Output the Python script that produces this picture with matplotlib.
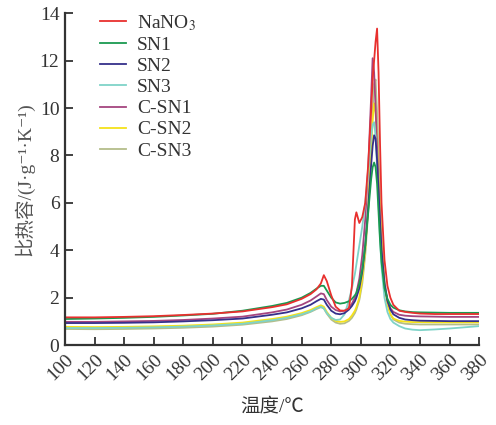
import matplotlib
matplotlib.use("Agg")
import matplotlib.pyplot as plt

# temperature grid (deg C) shared by all curves
temps = [100, 120, 140, 160, 180, 200, 220, 240, 250, 260, 266, 270, 273, 275, 277,
         280, 283, 286, 289, 292, 294, 296, 297, 299, 301, 303, 305, 307, 308, 309,
         310, 311, 312, 313, 314, 316, 318, 320, 322, 326, 330, 335, 340, 350, 360,
         370, 380]

nano3 = [1.17, 1.17, 1.19, 1.22, 1.27, 1.33, 1.42, 1.60, 1.72, 1.95, 2.15, 2.35, 2.60, 2.95, 2.70,
         2.10, 1.62, 1.46, 1.45, 1.55, 2.50, 5.30, 5.60, 5.15, 5.40, 6.00, 7.60, 9.90, 11.2, 12.0,
         12.8, 13.35, 11.5, 8.5, 6.0, 3.6, 2.5, 2.0, 1.70, 1.45, 1.40, 1.36, 1.33, 1.31, 1.31,
         1.31, 1.31]
sn1 = [1.10, 1.12, 1.15, 1.19, 1.25, 1.32, 1.45, 1.65, 1.78, 2.00, 2.20, 2.38, 2.50, 2.50, 2.30,
       2.00, 1.80, 1.75, 1.78, 1.85, 1.95, 2.10, 2.20, 2.60, 3.20, 4.20, 5.60, 7.00, 7.50, 7.70,
       7.50, 6.80, 5.60, 4.40, 3.50, 2.40, 1.95, 1.70, 1.58, 1.47, 1.42, 1.39, 1.38, 1.37, 1.36,
       1.36, 1.36]
sn2 = [0.93, 0.93, 0.94, 0.96, 1.00, 1.05, 1.12, 1.28, 1.38, 1.55, 1.70, 1.85, 1.95, 1.92, 1.70,
       1.45, 1.33, 1.30, 1.35, 1.50, 1.65, 1.85, 2.00, 2.40, 3.10, 4.20, 5.80, 7.60, 8.40, 8.85,
       8.70, 7.80, 6.50, 5.20, 4.00, 2.60, 1.90, 1.50, 1.30, 1.15, 1.08, 1.05, 1.03, 1.02, 1.01,
       1.01, 1.01]
sn3 = [0.72, 0.72, 0.73, 0.75, 0.78, 0.83, 0.90, 1.05, 1.15, 1.30, 1.42, 1.55, 1.62, 1.55, 1.35,
       1.15, 1.06, 1.08, 1.30, 1.90, 2.40, 3.00, 3.40, 4.20, 5.00, 6.00, 7.30, 8.80, 9.30, 9.40,
       8.80, 7.50, 6.00, 4.50, 3.30, 2.00, 1.40, 1.10, 0.95, 0.80, 0.70, 0.65, 0.63, 0.66, 0.70,
       0.75, 0.80]
csn1 = [0.98, 0.98, 1.00, 1.02, 1.06, 1.12, 1.20, 1.38, 1.50, 1.70, 1.88, 2.05, 2.18, 2.15, 1.90,
        1.62, 1.48, 1.42, 1.45, 1.58, 1.75, 2.00, 2.20, 2.80, 3.80, 5.30, 7.50, 10.5, 12.1, 11.5,
        10.0, 8.30, 6.60, 5.10, 3.90, 2.50, 1.85, 1.55, 1.40, 1.28, 1.24, 1.22, 1.21, 1.20, 1.19,
        1.19, 1.19]
csn2 = [0.77, 0.76, 0.77, 0.79, 0.82, 0.87, 0.95, 1.10, 1.20, 1.35, 1.48, 1.60, 1.68, 1.62, 1.40,
        1.15, 1.02, 0.98, 1.00, 1.10, 1.25, 1.45, 1.60, 2.00, 2.80, 4.00, 5.90, 8.20, 9.50, 10.2,
        9.80, 8.60, 7.00, 5.50, 4.20, 2.50, 1.70, 1.30, 1.12, 1.02, 0.99, 0.97, 0.97, 0.96, 0.96,
        0.96, 0.96]
csn3 = [0.68, 0.67, 0.68, 0.70, 0.73, 0.78, 0.86, 1.00, 1.10, 1.26, 1.40, 1.52, 1.60, 1.55, 1.33,
        1.08, 0.95, 0.90, 0.92, 1.02, 1.15, 1.35, 1.50, 1.90, 2.60, 3.80, 5.60, 8.30, 9.80, 11.0,
        11.2, 9.80, 8.00, 6.20, 4.70, 2.80, 1.80, 1.30, 1.08, 0.95, 0.90, 0.88, 0.87, 0.87, 0.87,
        0.87, 0.87]

series = [("NaNO$_3$", nano3, "#e8302e"),
          ("SN1", sn1, "#1a9a50"),
          ("SN2", sn2, "#35308a"),
          ("SN3", sn3, "#7fd3c8"),
          ("C-SN1", csn1, "#a5457f"),
          ("C-SN2", csn2, "#f5e21a"),
          ("C-SN3", csn3, "#b4bd8a")]

x_ticks = list(range(100, 381, 20))
y_ticks = list(range(0, 15, 2))

plt.rcParams['font.family'] = ['Liberation Serif', 'Noto Sans CJK SC', 'DejaVu Serif']
plt.rcParams['mathtext.fontset'] = 'stix'
txt = "#333333"

fig = plt.figure(figsize=(4.96, 4.25), dpi=100)
ax = fig.add_axes([0.131, 0.188, 0.835, 0.781])

# draw in reverse so red ends on top
for label, vals, color in series[::-1]:
    ax.plot(temps, vals, color=color, lw=1.3, label=label)

ax.set_xlim(100, 380)
ax.set_ylim(0, 14)
ax.set_xticks(x_ticks)
ax.set_yticks(y_ticks)
ax.set_xticklabels([str(t) for t in x_ticks], rotation=45, ha='right', va='top',
                   rotation_mode='anchor')
ax.tick_params(direction='in', length=6, width=1.3, colors=txt, labelsize=14, pad=4)
for s in ['top', 'right']:
    ax.spines[s].set_visible(False)
for s in ['left', 'bottom']:
    ax.spines[s].set_linewidth(1.6)
    ax.spines[s].set_color(txt)

ax.set_xlabel("温度/℃", fontsize=14, color=txt, labelpad=10)
ax.set_ylabel("比热容/(J·g⁻¹·K⁻¹)", fontsize=14, color="#555555", labelpad=4)

handles, labels = ax.get_legend_handles_labels()
ax.legend(handles[::-1], labels[::-1], loc='upper left', bbox_to_anchor=(0.085, 1.0),
          borderaxespad=0, borderpad=0, frameon=False, fontsize=14, handlelength=1.35,
          handletextpad=0.55, labelspacing=0.18, labelcolor=txt)

fig.savefig("out.png", dpi=100)
